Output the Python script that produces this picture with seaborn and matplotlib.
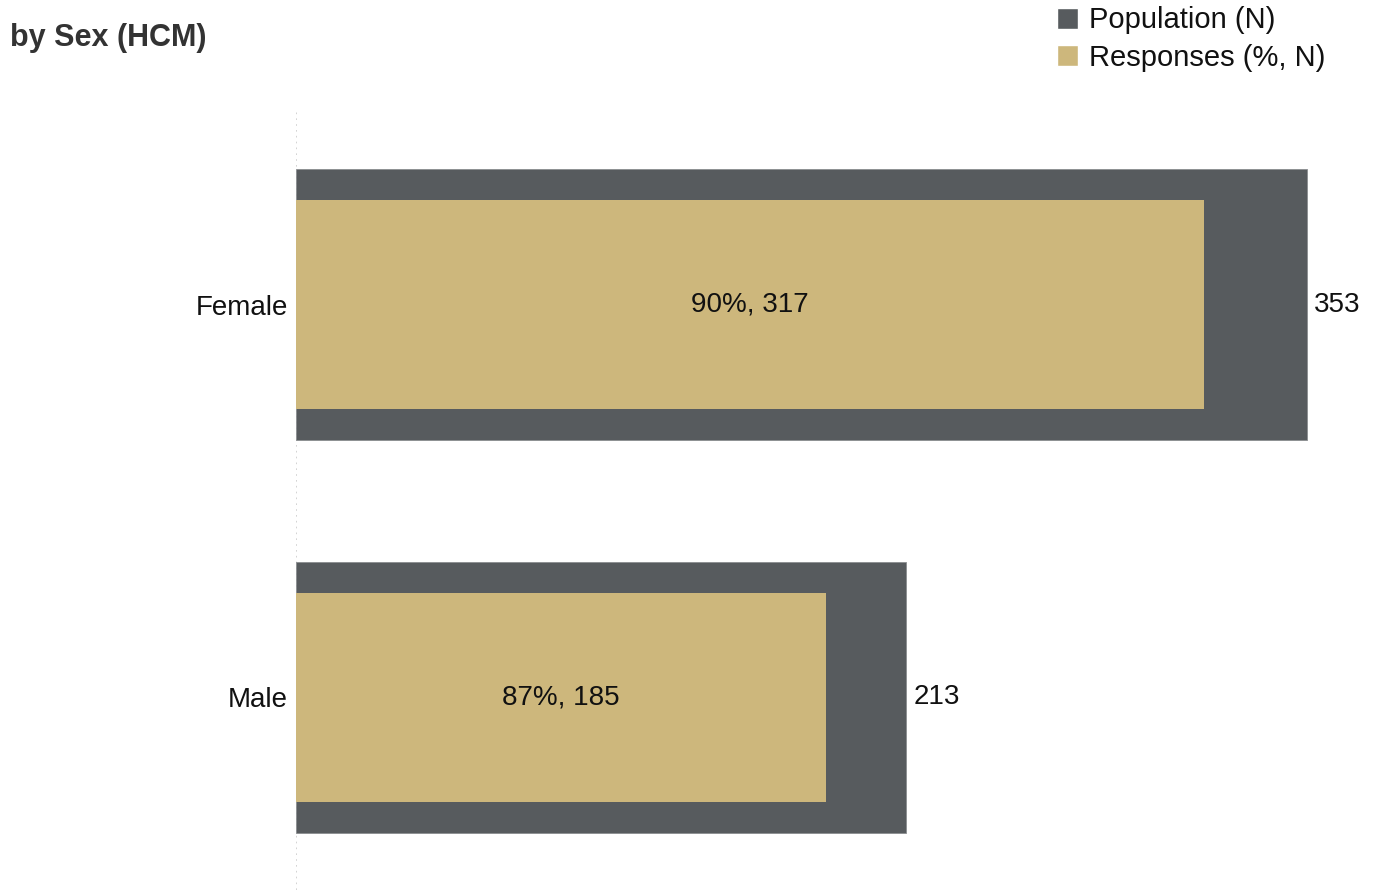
import numpy as np
import pandas as pd
import seaborn as sns
import matplotlib.pyplot as plt
from matplotlib.patches import Patch

sexes = ['Female', 'Male']
population = [353, 213]
responses = [317, 185]
response_pct = [90, 87]

POP_COLOR = '#575b5e'
RESP_COLOR = '#cdb77c'

df = pd.DataFrame({'sex': sexes, 'population': population, 'responses': responses})

sns.set_style('white')
plt.rcParams['font.family'] = ['Liberation Sans', 'DejaVu Sans']

fig = plt.figure(figsize=(13.76, 8.94), dpi=100)
ax = fig.add_axes([296 / 1376, 4 / 894, 1080 / 1376, 778 / 894])

sns.barplot(data=df, x='population', y='sex', color=POP_COLOR, width=0.69,
            saturation=1, ax=ax, orient='h', edgecolor='#8a8d90', linewidth=0.6)
sns.barplot(data=df, x='responses', y='sex', color=RESP_COLOR, width=0.53,
            saturation=1, ax=ax, orient='h', edgecolor='none', linewidth=0)

pop_bars = ax.containers[0]
resp_bars = ax.containers[1]
ax.bar_label(pop_bars, labels=[str(v) for v in population], padding=5,
             fontsize=20, color='#111111')
ax.bar_label(resp_bars, labels=[f'{p}%, {n}' for p, n in zip(response_pct, responses)],
             label_type='center', fontsize=20, color='#111111')

ax.axvline(0, color='#cccccc', linestyle=(0, (1, 2.5)), linewidth=1.2, zorder=0)
ax.set_xlim(0, 377)
ax.set_ylim(1.49, -0.49)
for s in ax.spines.values():
    s.set_visible(False)
ax.set_xticks([])
ax.set_xlabel('')
ax.set_ylabel('')
ax.tick_params(axis='y', length=0, pad=6, labelsize=20, labelcolor='#111111')

fig.text(10 / 1376, 1 - 38 / 894, 'by Sex (HCM)', fontsize=22, fontweight='bold',
         color='#333333', va='center', ha='left')

handles = [Patch(facecolor=POP_COLOR, label='Population (N)'),
           Patch(facecolor=RESP_COLOR, label='Responses (%, N)')]
fig.legend(handles=handles, loc='upper left', bbox_to_anchor=(1045 / 1376, 1.006),
           frameon=False, fontsize=21, handlelength=0.72, handleheight=0.72,
           handletextpad=0.4, labelspacing=0.32, borderaxespad=0,
           labelcolor='#111111')

fig.savefig('out.png', dpi=100)
